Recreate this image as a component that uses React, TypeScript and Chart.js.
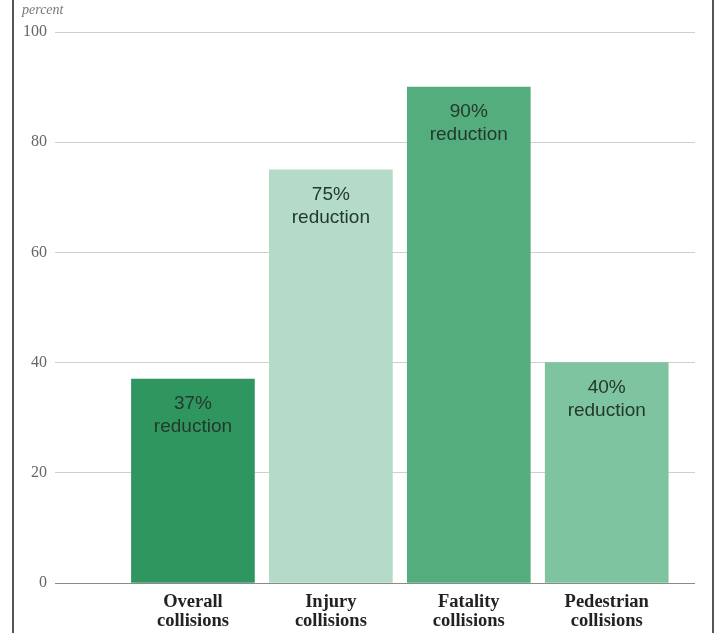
import React, { useEffect, useRef } from "react";
import { Chart, registerables } from "chart.js";

Chart.register(...registerables);

const categories: string[][] = [
  ["Overall", "collisions"],
  ["Injury", "collisions"],
  ["Fatality", "collisions"],
  ["Pedestrian", "collisions"],
];
const positions: number[] = [1, 2, 3, 4];
const reductions: number[] = [37, 75, 90, 40];
const barLabels: string[] = ["37%", "75%", "90%", "40%"];
const barColors: string[] = ["#2f965f", "#b3dbc8", "#53ad7d", "#7ec4a1"];
const yTicks: number[] = [0, 20, 40, 60, 80, 100];

const barTextPlugin = {
  id: "barText",
  afterDatasetsDraw(chart: any) {
    const ctx = chart.ctx;
    const meta = chart.getDatasetMeta(0);
    ctx.save();
    ctx.font = "19px 'Liberation Sans', Arial, sans-serif";
    ctx.fillStyle = "#24392c";
    ctx.textAlign = "center";
    ctx.textBaseline = "middle";
    meta.data.forEach((bar: any, i: number) => {
      ctx.fillText(barLabels[i], bar.x, bar.y + 25);
      ctx.fillText("reduction", bar.x, bar.y + 48);
    });
    ctx.restore();
  },
};

export default function App() {
  const ref = useRef<HTMLCanvasElement | null>(null);
  useEffect(() => {
    if (!ref.current) return;
    const chart = new Chart(ref.current, {
      type: "bar",
      data: {
        datasets: [
          {
            data: positions.map((x, i) => ({ x, y: reductions[i] })),
            backgroundColor: barColors,
            barThickness: 123,
            borderWidth: 0,
          },
        ],
      },
      options: {
        animation: false,
        responsive: false,
        maintainAspectRatio: false,
        layout: { padding: { top: 32, right: 21, left: 0, bottom: 0 } },
        plugins: { legend: { display: false }, tooltip: { enabled: false } },
        scales: {
          x: {
            type: "linear",
            offset: false,
            min: 0,
            max: 4.64,
            grid: { display: false, offset: false },
            border: { display: false },
            afterBuildTicks: (scale: any) => {
              scale.ticks = positions.map((v) => ({ value: v }));
            },
            afterFit: (scale: any) => {
              scale.height = 50;
            },
            ticks: {
              autoSkip: false,
              maxRotation: 0,
              padding: 2,
              color: "#222",
              font: { family: "'Liberation Serif', 'Times New Roman', serif", size: 18.5, weight: "bold", lineHeight: 1.02 },
              callback: (v: any) => {
                const i = positions.indexOf(Number(v));
                return i >= 0 ? categories[i] : "";
              },
            },
          },
          y: {
            min: 0,
            max: 100,
            afterBuildTicks: (scale: any) => {
              scale.ticks = yTicks.map((v) => ({ value: v }));
            },
            afterFit: (scale: any) => {
              scale.width = 55;
            },
            grid: {
              drawTicks: false,
              color: (c: any) => (c.tick && c.tick.value === 0 ? "#8a8a8a" : "#cfcfcf"),
              lineWidth: 1,
            },
            border: { display: false },
            ticks: {
              padding: 8,
              color: "#666",
              font: { family: "'Liberation Serif', 'Times New Roman', serif", size: 16 },
            },
          },
        },
      },
      plugins: [barTextPlugin],
    } as any);
    return () => chart.destroy();
  }, []);

  return (
    <div style={{ position: "fixed", left: 0, top: 0, width: 716, height: 633, background: "#fff" }}>
      <canvas ref={ref} width={716} height={633} style={{ position: "absolute", left: 0, top: 0, width: 716, height: 633 }} />
      <div
        style={{
          position: "absolute",
          left: 22,
          top: 2,
          fontFamily: "'Liberation Serif', 'Times New Roman', serif",
          fontStyle: "italic",
          fontSize: 14,
          color: "#777",
          lineHeight: "16px",
        }}
      >
        percent
      </div>
      <div style={{ position: "absolute", left: 12, top: 0, width: 2, height: 633, background: "#555" }} />
      <div style={{ position: "absolute", left: 712, top: 0, width: 2, height: 633, background: "#555" }} />
    </div>
  );
}
